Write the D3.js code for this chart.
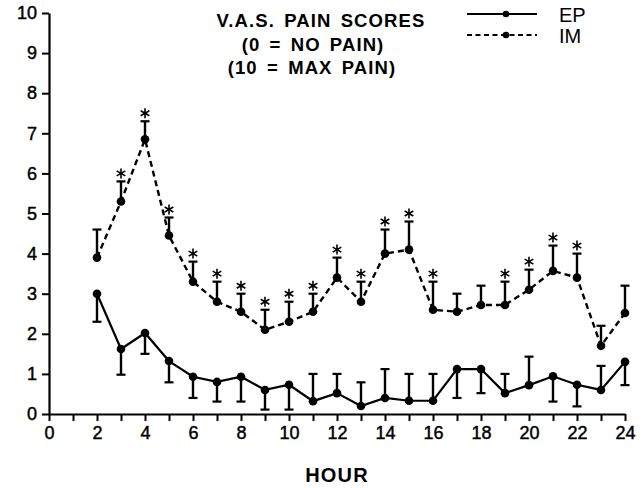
<!DOCTYPE html>
<html>
<head>
<meta charset="utf-8">
<script src="https://cdn.jsdelivr.net/npm/d3@7"></script>
<style>
  body { margin: 0; background: #fff; }
  svg { display: block; font-family: "Liberation Sans", Arial, sans-serif; }
</style>
</head>
<body>
<svg id="chart" width="644" height="488"></svg>
<script>
// hours after start
const hours = [2, 3, 4, 5, 6, 7, 8, 9, 10, 11, 12, 13, 14, 15, 16, 17, 18, 19, 20, 21, 22, 23, 24];

// IM group: mean and end of error bar (mean + SD)
const imMean = [3.9, 5.3, 6.85, 4.45, 3.3, 2.8, 2.55, 2.1, 2.3, 2.55, 3.4, 2.8, 4.0, 4.1, 2.6, 2.55, 2.72, 2.72, 3.1, 3.57, 3.4, 1.7, 2.52];
const imBarEnd = [4.6, 5.8, 7.3, 4.9, 3.8, 3.3, 3.0, 2.6, 2.8, 3.0, 3.9, 3.3, 4.6, 4.8, 3.3, 3.0, 3.2, 3.3, 3.6, 4.2, 4.0, 2.2, 3.2];

// EP group: mean and end of error bar (goes up or down)
const epMean = [3.0, 1.62, 2.02, 1.32, 0.93, 0.8, 0.93, 0.6, 0.73, 0.32, 0.52, 0.2, 0.4, 0.33, 0.33, 1.12, 1.12, 0.52, 0.72, 0.94, 0.73, 0.6, 1.3];
const epBarEnd = [2.3, 0.98, 1.5, 0.79, 0.4, 0.31, 0.31, 0.11, 0.11, 1.0, 1.0, 0.79, 1.12, 1.0, 1.0, 0.4, 0.52, 1.0, 1.43, 0.31, 0.19, 1.2, 0.72];

// hours marked significant (*)
const sigHours = [3, 4, 5, 6, 7, 8, 9, 10, 11, 12, 13, 14, 15, 16, 19, 20, 21, 22];

const titleLines = ["V.A.S. PAIN SCORES", "(0 = NO PAIN)", "(10 = MAX PAIN)"];
const legendNames = ["EP", "IM"];
const xLabel = "HOUR";

const svg = d3.select("#chart");

const x = d3.scaleLinear().domain([0, 24]).range([49, 625]);
const y = d3.scaleLinear().domain([0, 10]).range([414, 13]);

// axes
const xAxis = d3.axisBottom(x)
  .tickValues(d3.range(0, 25))
  .tickFormat(d => d % 2 === 0 ? d : "")
  .tickSize(7).tickSizeOuter(0).tickPadding(5);

const yAxis = d3.axisLeft(y)
  .ticks(10)
  .tickSize(7).tickSizeOuter(0).tickPadding(5);

const gx = svg.append("g").attr("transform", `translate(0,${y(0)})`).call(xAxis);
const gy = svg.append("g").attr("transform", `translate(${x(0)},0)`).call(yAxis);

[gx, gy].forEach(g => {
  g.select(".domain").attr("stroke", "#000").attr("stroke-width", 2.2);
  g.selectAll(".tick line").attr("stroke", "#000").attr("stroke-width", 2);
  g.selectAll(".tick text").attr("fill", "#000")
    .attr("stroke", "#000").attr("stroke-width", 0.45)
    .style("font-size", "18px").style("font-family", "'Liberation Sans', Arial, sans-serif");
});

svg.append("text")
  .attr("x", x(12)).attr("y", 482)
  .attr("text-anchor", "middle")
  .style("font-size", "20px").style("font-weight", "bold").style("letter-spacing", "1.2px")
  .text(xLabel);

// title block
const titleX = [321, 313, 312];
svg.append("g").selectAll("text")
  .data(titleLines).join("text")
  .attr("x", (d, i) => titleX[i])
  .attr("y", (d, i) => 27 + i * 23.5)
  .attr("text-anchor", "middle")
  .style("font-size", "18.5px").style("font-weight", "bold")
  .style("letter-spacing", "1.1px").style("word-spacing", "3px")
  .text(d => d);

// lines
const imData = hours.map((h, i) => ({ h, v: imMean[i], e: imBarEnd[i] }));
const epData = hours.map((h, i) => ({ h, v: epMean[i], e: epBarEnd[i] }));

const line = d3.line().x(d => x(d.h)).y(d => y(d.v));

function errorBars(data) {
  const g = svg.append("g").attr("stroke", "#000");
  g.selectAll("line.bar").data(data).join("line")
    .attr("x1", d => x(d.h)).attr("x2", d => x(d.h))
    .attr("y1", d => y(d.v)).attr("y2", d => y(d.e))
    .attr("stroke-width", 2.4);
  g.selectAll("line.cap").data(data).join("line")
    .attr("x1", d => x(d.h) - 4.5).attr("x2", d => x(d.h) + 4.5)
    .attr("y1", d => y(d.e)).attr("y2", d => y(d.e))
    .attr("stroke-width", 2.2);
}

errorBars(imData);
errorBars(epData);

svg.append("path").datum(imData)
  .attr("d", line).attr("fill", "none").attr("stroke", "#000")
  .attr("stroke-width", 2.4).attr("stroke-dasharray", "6,4");

svg.append("path").datum(epData)
  .attr("d", line).attr("fill", "none").attr("stroke", "#000")
  .attr("stroke-width", 2.2);

[imData, epData].forEach(data => {
  svg.append("g").selectAll("circle").data(data).join("circle")
    .attr("cx", d => x(d.h)).attr("cy", d => y(d.v)).attr("r", 4.3)
    .attr("fill", "#000");
});

// asterisks
const star = d3.symbol().type(d3.symbolAsterisk).size(70);
svg.append("g").selectAll("path")
  .data(imData.filter(d => sigHours.includes(d.h))).join("path")
  .attr("d", star)
  .attr("transform", d => `translate(${x(d.h)},${y(d.e) - 8})`)
  .attr("fill", "none").attr("stroke", "#000").attr("stroke-width", 1.6);

// legend
const legendY = [14, 35];
const legend = svg.append("g");
legendNames.forEach((name, i) => {
  legend.append("line")
    .attr("x1", 467).attr("x2", 537).attr("y1", legendY[i]).attr("y2", legendY[i])
    .attr("stroke", "#000").attr("stroke-width", 1.8)
    .attr("stroke-dasharray", i === 1 ? "5,3.5" : null);
  legend.append("circle")
    .attr("cx", 506).attr("cy", legendY[i]).attr("r", 3.3).attr("fill", "#000");
  legend.append("text")
    .attr("x", 559).attr("y", legendY[i] + 8)
    .style("font-size", "20px")
    .text(name);
});
</script>
</body>
</html>
